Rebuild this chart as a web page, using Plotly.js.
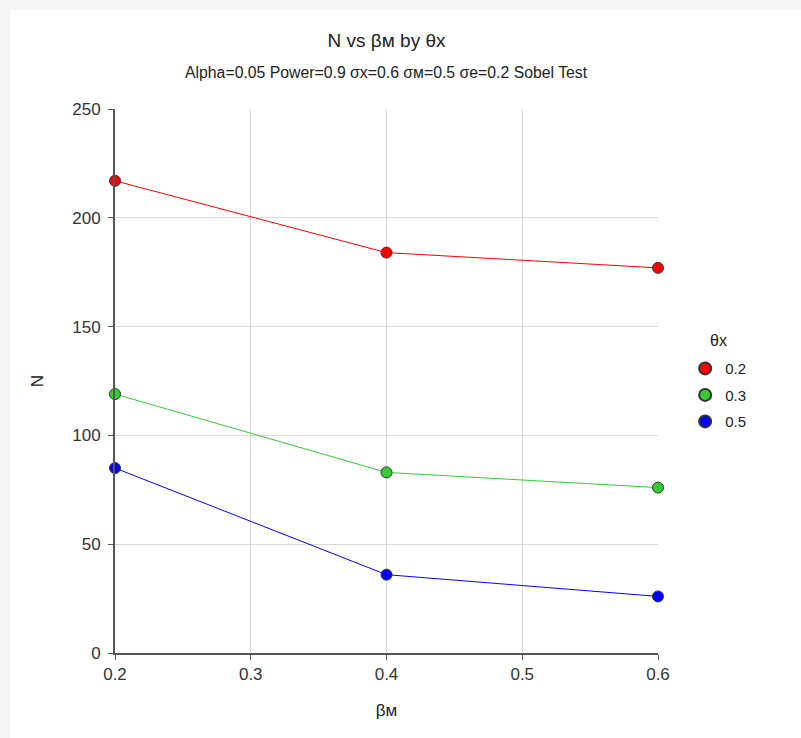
<!DOCTYPE html>
<html>
<head>
<meta charset="utf-8">
<script src="https://cdn.plot.ly/plotly-3.0.1.min.js"></script>
<style>
html,body{margin:0;padding:0;background:#f5f5f5;width:801px;height:738px;overflow:hidden;}
#chart{position:absolute;left:10px;top:10px;width:791px;height:728px;background:#fff;}
</style>
</head>
<body>
<div id="chart"></div>
<script>
const betaM = [0.2, 0.4, 0.6];
const legendTitle = "θx";
const seriesNames = ["0.2", "0.3", "0.5"];
const n_02 = [217, 184, 177];
const n_03 = [119, 83, 76];
const n_05 = [85, 36, 26];
const colors = ["#ff0000", "#33cc33", "#0000ff"];
const xTicks = [0.2, 0.3, 0.4, 0.5, 0.6];
const yTicks = [0, 50, 100, 150, 200, 250];

const values = [n_02, n_03, n_05];
const traces = [];
values.forEach((v, i) => {
  traces.push({
    x: betaM, y: v, name: seriesNames[i], type: "scatter", mode: "lines+markers",
    line: {color: colors[i], width: 1},
    marker: {color: colors[i], size: 11, line: {color: "#333", width: 1}},
    cliponaxis: false, showlegend: false, legendgroup: "g" + i
  });
});
values.forEach((v, i) => {
  traces.push({
    x: [null], y: [null], name: seriesNames[i], type: "scatter", mode: "markers",
    marker: {color: colors[i], size: 11, line: {color: "#333", width: 1}},
    showlegend: true, legendgroup: "g" + i, hoverinfo: "skip"
  });
});

const font = "Liberation Sans, Arial, sans-serif";
const layout = {
  width: 791, height: 728,
  margin: {l: 105, r: 143, t: 99, b: 85},
  paper_bgcolor: "#fff", plot_bgcolor: "#fff",
  font: {family: font, color: "#222", size: 16},
  title: {text: "N vs β\u1D0D by θx", font: {size: 19, color: "#222"}, x: 0.5, xref: "paper", y: 0.9588, yanchor: "middle"},
  annotations: [{
    text: "Alpha=0.05 Power=0.9 σx=0.6 σ\u1D0D=0.5 σe=0.2 Sobel Test",
    xref: "paper", yref: "paper", x: 0.5, y: 1, yshift: 37, xanchor: "center", yanchor: "middle",
    showarrow: false, font: {size: 15.8, color: "#222"}
  }, {
    text: legendTitle, xref: "paper", yref: "paper", x: 1.092, y: 0.575,
    xanchor: "left", yanchor: "middle", showarrow: false, font: {size: 16, color: "#222"}
  }],
  xaxis: {
    range: [0.2, 0.6], tickvals: xTicks, ticktext: xTicks.map(String),
    showline: true, linecolor: "#555", linewidth: 2, ticks: "outside", ticklen: 5, tickcolor: "#555",
    gridcolor: "#d9d9d9", zeroline: false,
    title: {text: "β\u1D0D", font: {size: 17}, standoff: 21},
    tickfont: {size: 17, color: "#333"}
  },
  yaxis: {
    range: [0, 250], tickvals: yTicks, ticktext: yTicks.map(String),
    showline: true, linecolor: "#555", linewidth: 2, ticks: "outside", ticklen: 5, tickcolor: "#555",
    gridcolor: "#d9d9d9", zeroline: false, ticklabelstandoff: 4,
    title: {text: "N", font: {size: 17}, standoff: 24},
    tickfont: {size: 17, color: "#333"}
  },
  legend: {
    x: 1.05, xanchor: "left", y: 0.474, yanchor: "middle",
    font: {size: 15}, tracegroupgap: 4, itemsizing: "constant"
  },
  showlegend: true
};
Plotly.newPlot("chart", traces, layout, {displayModeBar: false});
</script>
</body>
</html>
